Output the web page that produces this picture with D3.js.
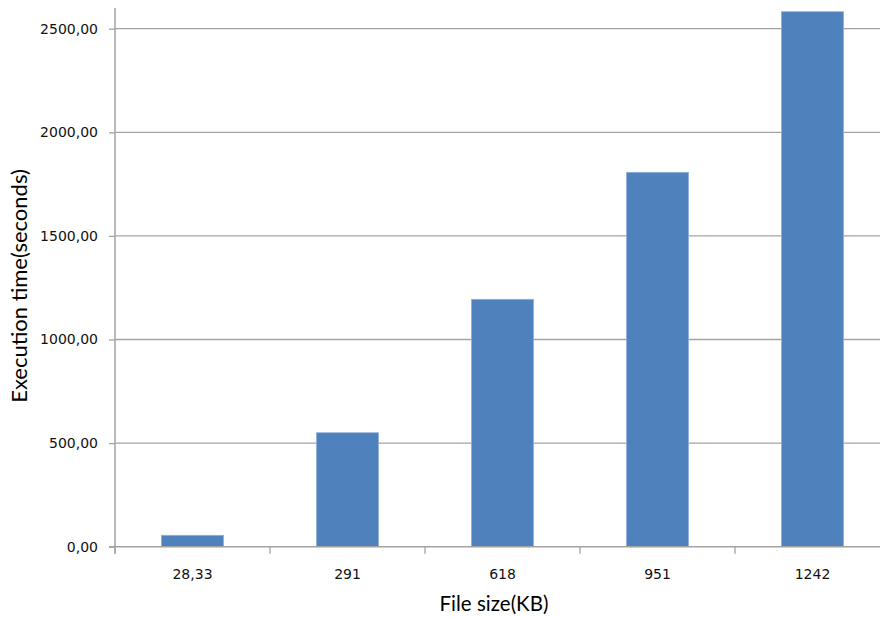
<!DOCTYPE html>
<html>
<head>
<meta charset="utf-8">
<script src="https://cdn.jsdelivr.net/npm/d3@7/dist/d3.min.js"></script>
<style>
  html, body { margin: 0; padding: 0; background: #fff; }
  svg { display: block; }
</style>
</head>
<body>
<svg id="chart" width="880" height="617"></svg>
<script>
// File sizes (category labels) and measured execution times in seconds
const fileSizes = ["28,33", "291", "618", "951", "1242"];
const execTimes = [55, 550, 1194, 1807, 2582];
const yTicks = [0, 500, 1000, 1500, 2000, 2500];
const yTitle = "Execution time(seconds)";
const xTitle = "File size(KB)";

(function () {
  const svg = d3.select("#chart");
  const W = 880;
  const plotLeft = 115, plotRight = 890, plotTop = 8, plotBottom = 546.7;

  const locale = d3.formatLocale({ decimal: ",", thousands: "", grouping: [3], currency: ["", ""] });
  const fmt = locale.format(".2f");

  const x = d3.scaleBand().domain(fileSizes).range([plotLeft, plotRight])
    .paddingInner(0.6).paddingOuter(0.3);
  const y = d3.scaleLinear().domain([0, 2600]).range([plotBottom, plotTop]);

  const gridColor = "#a3a3a3";
  const tickFont = "DejaVu Sans, Verdana, sans-serif";
  const titleFont = "Lato, 'Open Sans', sans-serif";

  // horizontal gridlines
  svg.append("g").selectAll("line").data(yTicks.filter(d => d > 0)).join("line")
    .attr("x1", plotLeft).attr("x2", W)
    .attr("y1", d => y(d)).attr("y2", d => y(d))
    .attr("stroke", gridColor).attr("stroke-width", 1.3);

  // bars
  svg.append("g").selectAll("rect").data(fileSizes).join("rect")
    .attr("x", d => x(d))
    .attr("width", x.bandwidth())
    .attr("y", (d, i) => y(execTimes[i]))
    .attr("height", (d, i) => y(0) - y(execTimes[i]))
    .attr("fill", "#4f81bd")
    .attr("stroke", "#8eb0da").attr("stroke-width", 0.8);

  // y axis
  const yAxis = d3.axisLeft(y).tickValues(yTicks).tickFormat(fmt).tickSize(6).tickPadding(11);
  const gy = svg.append("g").attr("transform", `translate(${plotLeft},0)`).call(yAxis);
  gy.select(".domain").attr("stroke", gridColor).attr("stroke-width", 1.5)
    .attr("d", `M0,${plotTop}V${plotBottom + 7}`);
  gy.selectAll(".tick line").attr("stroke", gridColor).attr("stroke-width", 1.3);
  gy.selectAll(".tick text").attr("fill", "#111")
    .style("font-family", tickFont).style("font-size", "14px");

  // x axis with ticks at category boundaries
  const step = x.step();
  const boundaries = d3.range(fileSizes.length).map(i => x(fileSizes[i]) - step * x.paddingInner() / 2);
  const gx = svg.append("g");
  gx.append("line").attr("x1", plotLeft - 6).attr("x2", W)
    .attr("y1", plotBottom).attr("y2", plotBottom)
    .attr("stroke", gridColor).attr("stroke-width", 1.5);
  gx.selectAll("line.bt").data(boundaries).join("line").attr("class", "bt")
    .attr("x1", d => d).attr("x2", d => d)
    .attr("y1", plotBottom).attr("y2", plotBottom + 7)
    .attr("stroke", gridColor).attr("stroke-width", 1.3);
  gx.selectAll("text").data(fileSizes).join("text")
    .attr("x", d => x(d) + x.bandwidth() / 2)
    .attr("y", plotBottom + 32)
    .attr("text-anchor", "middle")
    .attr("fill", "#111")
    .style("font-family", tickFont).style("font-size", "14px")
    .text(d => d);

  // axis titles
  svg.append("text")
    .attr("transform", "translate(27,286) rotate(-90)")
    .attr("text-anchor", "middle")
    .attr("fill", "#000")
    .style("font-family", titleFont).style("font-size", "22px")
    .text(yTitle);

  svg.append("text")
    .attr("x", 494).attr("y", 611)
    .attr("text-anchor", "middle")
    .attr("fill", "#000")
    .style("font-family", titleFont).style("font-size", "20.5px")
    .text(xTitle);
})();
</script>
</body>
</html>
